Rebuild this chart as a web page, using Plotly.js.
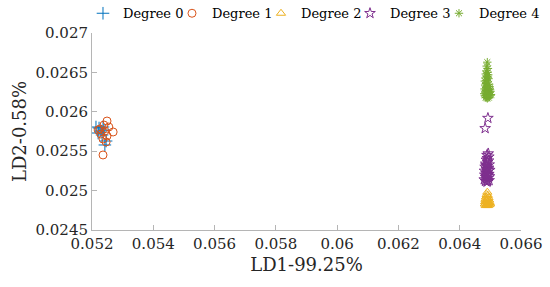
<!DOCTYPE html>
<html>
<head>
<meta charset="utf-8">
<script src="https://cdn.plot.ly/plotly-3.0.1.min.js"></script>
<style>html,body{margin:0;padding:0;background:#fff;}#chart{width:550px;height:287px;}</style>
</head>
<body>
<div id="chart"></div>
<script>
var seriesNames = ["Degree 0", "Degree 1", "Degree 2", "Degree 3", "Degree 4"];

var deg0X = [0.05213, 0.05223, 0.05236, 0.05229, 0.05239, 0.05246, 0.05242, 0.05233, 0.05220];
var deg0Y = [0.025807, 0.025794, 0.025807, 0.025756, 0.025769, 0.025629, 0.025579, 0.025706, 0.025731];

var deg1X = [0.05249, 0.05239, 0.05255, 0.05226, 0.05269, 0.05242, 0.05229, 0.05249, 0.05236, 0.05246, 0.05236, 0.05220];
var deg1Y = [0.025883, 0.025832, 0.025807, 0.025782, 0.025744, 0.025756, 0.025718, 0.025693, 0.025655, 0.025617, 0.025452, 0.025769];

var deg2X = [0.06490, 0.06488, 0.06492, 0.06486, 0.06494, 0.06490, 0.06484, 0.06496, 0.06488, 0.06492, 0.06483,
             0.06498, 0.06486, 0.06494, 0.06490, 0.06482, 0.06499, 0.06488, 0.06496, 0.06485, 0.06492];
var deg2Y = [0.02498, 0.02495, 0.02494, 0.02492, 0.02491, 0.02490, 0.02489, 0.02488, 0.02487, 0.02486, 0.02486,
             0.02485, 0.02484, 0.02484, 0.02483, 0.02483, 0.02483, 0.02482, 0.02482, 0.02481, 0.02481];

var deg3X = [0.06492, 0.06483, 0.06493, 0.06489, 0.06495, 0.06490, 0.06487, 0.06494, 0.06491, 0.06485, 0.06496,
             0.06489, 0.06483, 0.06493, 0.06487, 0.06498, 0.06481, 0.06491, 0.06486, 0.06495, 0.06482, 0.06490,
             0.06497, 0.06485, 0.06493, 0.06488, 0.06480, 0.06496, 0.06491, 0.06484, 0.06489, 0.06494, 0.06486, 0.06492];
var deg3Y = [0.02592, 0.02579, 0.02547, 0.02545, 0.02543, 0.02541, 0.02539, 0.02538, 0.02536, 0.02534, 0.02533,
             0.02531, 0.02530, 0.02529, 0.02527, 0.02526, 0.02525, 0.02524, 0.02522, 0.02521, 0.02520, 0.02519,
             0.02518, 0.02517, 0.02516, 0.02515, 0.02514, 0.02513, 0.02512, 0.02512, 0.02511, 0.02528, 0.02532, 0.02520];

var deg4X = [0.06490, 0.06488, 0.06492, 0.06487, 0.06491, 0.06485, 0.06493, 0.06489, 0.06484, 0.06494, 0.06488,
             0.06482, 0.06491, 0.06486, 0.06496, 0.06483, 0.06490, 0.06487, 0.06498, 0.06481, 0.06493, 0.06486,
             0.06500, 0.06484, 0.06495, 0.06489, 0.06502, 0.06482, 0.06497, 0.06487, 0.06493, 0.06499, 0.06491,
             0.06485, 0.06495, 0.06489, 0.06480, 0.06497, 0.06492, 0.06486, 0.06490, 0.06501];
var deg4Y = [0.02663, 0.02658, 0.02655, 0.02652, 0.02650, 0.02648, 0.02647, 0.02645, 0.02643, 0.02642, 0.02640,
             0.02639, 0.02638, 0.02636, 0.02635, 0.02634, 0.02633, 0.02631, 0.02630, 0.02629, 0.02628, 0.02627,
             0.02626, 0.02625, 0.02624, 0.02623, 0.02622, 0.02621, 0.02620, 0.02619, 0.02625, 0.02628, 0.02622,
             0.02618, 0.02618, 0.02618, 0.02623, 0.02632, 0.02644, 0.02629, 0.02617, 0.02621];

var xTickVals = [0.052, 0.054, 0.056, 0.058, 0.060, 0.062, 0.064, 0.066];
var xTickText = ["0.052", "0.054", "0.056", "0.058", "0.06", "0.062", "0.064", "0.066"];
var yTickVals = [0.0245, 0.025, 0.0255, 0.026, 0.0265, 0.027];
var yTickText = ["0.0245", "0.025", "0.0255", "0.026", "0.0265", "0.027"];

var colors = ["#0072BD", "#D95319", "#EDB120", "#7E2F8E", "#77AC30"];
var symbols = ["cross-thin-open", "circle-open", "triangle-up-open", "star-open", "asterisk-open"];
var sizes = [9, 8, 8, 8, 7];
var xs = [deg0X, deg1X, deg2X, deg3X, deg4X];
var ys = [deg0Y, deg1Y, deg2Y, deg3Y, deg4Y];

var traces = seriesNames.map(function (n, i) {
  return {
    type: "scatter", mode: "markers", name: n, x: xs[i], y: ys[i],
    marker: {symbol: symbols[i], color: colors[i], size: sizes[i], line: {color: colors[i], width: 1}}
  };
});

var font = "DejaVu Serif";
var layout = {
  width: 550, height: 287,
  margin: {l: 92, r: 29, t: 33, b: 57, autoexpand: false},
  paper_bgcolor: "#ffffff", plot_bgcolor: "#ffffff",
  font: {family: font, size: 15, color: "#262626"},
  showlegend: true,
  legend: {
    orientation: "h", x: -0.021, xanchor: "left", y: 1.1, yanchor: "middle",
    font: {family: font, size: 13, color: "#000000"},
    bgcolor: "rgba(0,0,0,0)", entrywidth: 44, itemwidth: 30
  },
  xaxis: {
    range: [0.052, 0.066], tickmode: "array", tickvals: xTickVals, ticktext: xTickText,
    ticks: "inside", ticklen: 5, tickcolor: "#b5b5b5", showline: true, linecolor: "#b5b5b5",
    linewidth: 1, showgrid: false, zeroline: false, mirror: false, automargin: false,
    tickfont: {family: font, size: 15, color: "#262626"},
    title: {text: "LD1-99.25%", font: {family: font, size: 18, color: "#262626"}, standoff: 6}
  },
  yaxis: {
    range: [0.0245, 0.027], tickmode: "array", tickvals: yTickVals, ticktext: yTickText,
    ticks: "inside", ticklen: 5, tickcolor: "#b5b5b5", showline: true, linecolor: "#b5b5b5",
    linewidth: 1, showgrid: false, zeroline: false, mirror: false, automargin: false,
    tickfont: {family: font, size: 15, color: "#262626"},
    title: {text: "LD2-0.58%", font: {family: font, size: 18, color: "#262626"}, standoff: 4}
  }
};

Plotly.newPlot("chart", traces, layout, {displayModeBar: false, staticPlot: true}).then(function (gd) {
  var clipped = gd.querySelectorAll(".legend [clip-path]");
  for (var i = 0; i < clipped.length; i++) { clipped[i].removeAttribute("clip-path"); }
});
</script>
</body>
</html>
